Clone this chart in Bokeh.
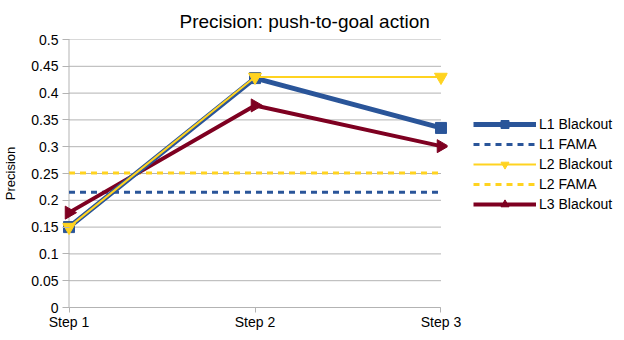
import math
from bokeh.plotting import figure
from bokeh.models import Range1d, FixedTicker, Legend, LegendItem
from bokeh.embed import file_html
from bokeh.resources import INLINE

steps = ["Step 1", "Step 2", "Step 3"]
xs = [0, 1, 2]
l1_blackout = [0.150, 0.428, 0.335]
l1_fama = [0.215, 0.215, 0.215]
l2_blackout = [0.150, 0.430, 0.430]
l2_fama = [0.251, 0.251, 0.251]
l3_blackout = [0.177, 0.377, 0.301]
y_ticks = [0, 0.05, 0.1, 0.15, 0.2, 0.25, 0.3, 0.35, 0.4, 0.45, 0.5]

BLUE = "#2a5599"
YELLOW = "#ffd320"
RED = "#7e0021"
GRID = "#b3b3b3"
FONT = "Liberation Sans"

pad = 0.035
p = figure(frame_width=385, frame_height=268, output_backend="svg", toolbar_location=None,
           x_range=Range1d(xs[0] - pad, xs[-1] + pad), y_range=Range1d(y_ticks[0], y_ticks[-1]),
           min_border_left=55, min_border_right=168, min_border_top=32, min_border_bottom=0)
p.outline_line_color = None
p.background_fill_color = "white"

p.title.text = "Precision: push-to-goal action"
p.title.text_font = FONT
p.title.text_font_size = "19px"
p.title.text_font_style = "normal"
p.title.align = "left"
p.title.offset = 117
p.title.standoff = 16
p.title.text_color = "#000000"

p.xaxis.ticker = FixedTicker(ticks=xs)
p.xaxis.major_label_overrides = {x: s for x, s in zip(xs, steps)}
p.xaxis.bounds = (xs[0], xs[-1])
p.yaxis.ticker = FixedTicker(ticks=y_ticks)
p.yaxis.major_label_overrides = {t: ("0" if t == 0 else ("%g" % t)) for t in y_ticks}
for ax in (p.xaxis[0], p.yaxis[0]):
    ax.axis_line_color = GRID
    ax.major_tick_line_color = GRID
    ax.minor_tick_line_color = None
    ax.major_tick_in = 0
    ax.major_tick_out = 6
    ax.major_label_text_font = FONT
    ax.major_label_text_font_size = "14px"
    ax.major_label_text_color = "#000000"
p.xaxis.major_tick_out = 5
p.xaxis.major_label_standoff = 1
# y axis: the visible axis line sits at Step 1; ticks reach from the frame edge to it
p.yaxis.axis_line_color = None
p.yaxis.major_tick_out = 0
p.yaxis.major_tick_in = 7
p.yaxis.major_label_standoff = 4
p.yaxis.axis_label = "Precision"
p.yaxis.axis_label_text_font = FONT
p.yaxis.axis_label_text_font_size = "13px"
p.yaxis.axis_label_text_font_style = "normal"
p.yaxis.axis_label_text_color = "#000000"
p.yaxis.axis_label_standoff = 10

p.xgrid.grid_line_color = None
p.ygrid.grid_line_color = None
p.segment(x0=[xs[0]] * len(y_ticks), x1=[xs[-1]] * len(y_ticks), y0=y_ticks, y1=y_ticks,
          line_color=GRID, line_width=1)
p.segment(x0=[xs[0]], x1=[xs[0]], y0=[y_ticks[0]], y1=[y_ticks[-1]], line_color=GRID, line_width=1)

r_l1f = p.line(xs, l1_fama, line_color=BLUE, line_width=3, line_dash="6 5")
r_l2f = p.line(xs, l2_fama, line_color=YELLOW, line_width=3, line_dash="6 5")
r_l3 = p.line(xs, l3_blackout, line_color=RED, line_width=4)
r_l3m = p.scatter(xs, l3_blackout, marker="triangle", angle=-math.pi / 2, size=13,
                  fill_color=RED, line_color=RED)
r_l1 = p.line(xs, l1_blackout, line_color=BLUE, line_width=5)
r_l1m = p.scatter(xs, l1_blackout, marker="square", size=11, fill_color=BLUE, line_color=BLUE)
r_l2 = p.line(xs, l2_blackout, line_color=YELLOW, line_width=2)
r_l2m = p.scatter(xs, l2_blackout, marker="inverted_triangle", size=13,
                  fill_color=YELLOW, line_color=YELLOW)

legend = Legend(items=[
    LegendItem(label="L1 Blackout", renderers=[r_l1, r_l1m]),
    LegendItem(label="L1 FAMA", renderers=[r_l1f]),
    LegendItem(label="L2 Blackout", renderers=[r_l2, r_l2m]),
    LegendItem(label="L2 FAMA", renderers=[r_l2f]),
    LegendItem(label="L3 Blackout", renderers=[r_l3, r_l3m]),
])
legend.location = (26, 93)
legend.border_line_color = None
legend.background_fill_alpha = 0
legend.glyph_width = 63
legend.glyph_height = 20
legend.label_text_font = FONT
legend.label_text_font_size = "14px"
legend.label_text_color = "#000000"
legend.label_standoff = 3
legend.spacing = 0
legend.padding = 0
legend.margin = 0
p.add_layout(legend, "right")

with open("out.html", "w") as f:
    f.write(file_html(p, INLINE))
